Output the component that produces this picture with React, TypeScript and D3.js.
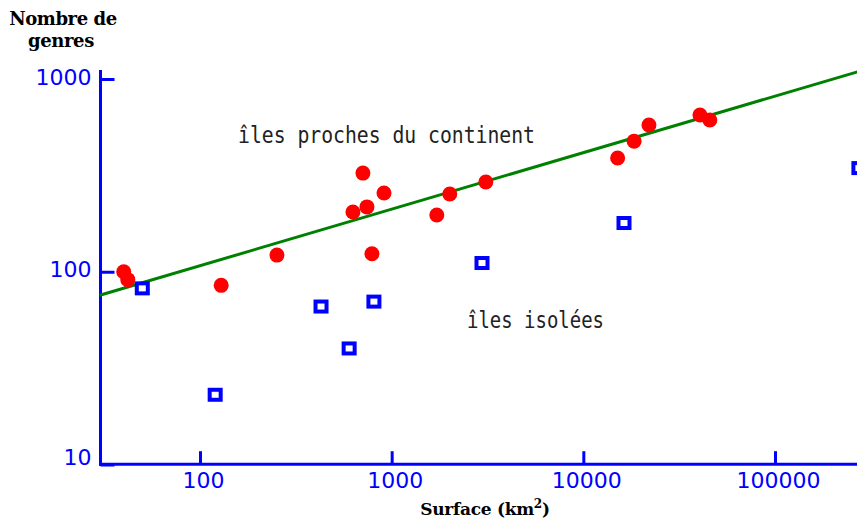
import React from 'react';
import * as d3 from 'd3';

const WIDTH = 857;
const HEIGHT = 519;

// islands close to the continent (red dots)
const nearArea = [40, 42, 129, 252, 708, 628, 743, 912, 789, 1720, 2010, 3100, 15100, 18400, 22000, 40600, 45700];
const nearGenera = [100, 91, 85, 122, 325, 204, 217, 256, 124, 197, 253, 292, 389, 476, 577, 650, 613];

// isolated islands (blue squares)
const isolatedArea = [50, 120, 428, 600, 808, 2960, 16300, 274000];
const isolatedGenera = [82, 23, 66, 40, 70, 111, 179, 345];

// fitted power law, drawn edge to edge
const trendArea = [30, 270000];
const trendGenera = [75.5, 1090];

const xTicks = [100, 1000, 10000, 100000];
const yTicks = [10, 100, 1000];

const BLUE = '#0000ff';

const App: React.FC = () => {
  const svgRef = React.useRef<SVGSVGElement>(null);

  React.useEffect(() => {
    if (!svgRef.current) return;
    d3.select(svgRef.current).selectAll('*').remove();
    const svg = d3.select(svgRef.current);

    const x = d3.scaleLog().domain([100, 100000]).range([200, 775]);
    const y = d3.scaleLog().domain([10, 1000]).range([464.5, 79]);

    const axisX = 100.5;
    const axisY = 464.2;

    // X axis
    const gx = svg.append('g')
      .attr('transform', `translate(0,${axisY})`)
      .call(d3.axisBottom(x)
        .tickValues(xTicks)
        .tickFormat(d3.format('d'))
        .tickSizeInner(-13)
        .tickSizeOuter(0)
        .tickPadding(8));
    gx.select('.domain').remove();
    gx.style('color', BLUE)
      .attr('font-family', '"DejaVu Sans", sans-serif')
      .attr('font-size', 22);
    gx.selectAll('.tick line').attr('stroke-width', 3);
    gx.selectAll('.tick text').attr('dx', 3);

    // Y axis
    const gy = svg.append('g')
      .attr('transform', `translate(${axisX},0)`)
      .call(d3.axisLeft(y)
        .tickValues(yTicks)
        .tickFormat(d3.format('d'))
        .tickSizeInner(-14)
        .tickSizeOuter(0)
        .tickPadding(9));
    gy.select('.domain').remove();
    gy.style('color', BLUE)
      .attr('font-family', '"DejaVu Sans", sans-serif')
      .attr('font-size', 22);
    gy.selectAll('.tick line').attr('stroke-width', 3);
    gy.selectAll<SVGTextElement, number>('.tick text').attr('y', d => (d === 10 ? -7 : -2));

    // axis lines
    svg.append('line')
      .attr('x1', axisX).attr('x2', axisX)
      .attr('y1', 70).attr('y2', axisY + 1.5)
      .attr('stroke', BLUE).attr('stroke-width', 3);
    svg.append('line')
      .attr('x1', axisX - 1.5).attr('x2', WIDTH)
      .attr('y1', axisY).attr('y2', axisY)
      .attr('stroke', BLUE).attr('stroke-width', 3);

    // trend line
    const line = d3.line<number>()
      .x((d, i) => x(trendArea[i]))
      .y(d => y(d));
    svg.append('path')
      .attr('d', line(trendGenera))
      .attr('fill', 'none')
      .attr('stroke', '#008000')
      .attr('stroke-width', 3);

    // near islands
    svg.append('g')
      .selectAll('circle')
      .data(nearArea)
      .enter().append('circle')
      .attr('cx', d => x(d))
      .attr('cy', (d, i) => y(nearGenera[i]))
      .attr('r', 7.5)
      .attr('fill', '#ff0000');

    // isolated islands
    svg.append('g')
      .selectAll('rect')
      .data(isolatedArea)
      .enter().append('rect')
      .attr('x', d => x(d) - 5.5)
      .attr('y', (d, i) => y(isolatedGenera[i]) - 5)
      .attr('width', 11)
      .attr('height', 10)
      .attr('fill', '#fff')
      .attr('stroke', BLUE)
      .attr('stroke-width', 4);

    // annotations
    const note = svg.append('g')
      .attr('font-family', '"DejaVu Sans Mono", monospace')
      .attr('font-size', 23)
      .attr('fill', '#222');
    note.append('text')
      .attr('x', 238).attr('y', 143)
      .attr('textLength', 297)
      .attr('lengthAdjust', 'spacingAndGlyphs')
      .text('îles proches du continent');
    note.append('text')
      .attr('x', 467).attr('y', 328)
      .attr('textLength', 137)
      .attr('lengthAdjust', 'spacingAndGlyphs')
      .text('îles isolées');

    // axis titles
    const title = svg.append('g')
      .attr('font-family', '"DejaVu Serif", serif')
      .attr('font-weight', 'bold')
      .attr('fill', '#000')
      .attr('text-anchor', 'middle');
    title.append('text')
      .attr('x', 63).attr('y', 25)
      .attr('font-size', 18)
      .attr('letter-spacing', -0.4)
      .text('Nombre de');
    title.append('text')
      .attr('x', 61).attr('y', 47)
      .attr('font-size', 18)
      .attr('letter-spacing', -0.4)
      .text('genres');

    const xt = title.append('text')
      .attr('x', 485).attr('y', 515)
      .attr('font-size', 17)
      .attr('letter-spacing', -0.3);
    xt.append('tspan').text('Surface (km');
    xt.append('tspan').attr('dy', -7).attr('font-size', 12).text('2');
    xt.append('tspan').attr('dy', 7).text(')');
  }, []);

  return (
    <svg
      ref={svgRef}
      width={WIDTH}
      height={HEIGHT}
      viewBox={`0 0 ${WIDTH} ${HEIGHT}`}
      style={{ position: 'absolute', left: 0, top: 0, background: '#fff' }}
    />
  );
};

export default App;
